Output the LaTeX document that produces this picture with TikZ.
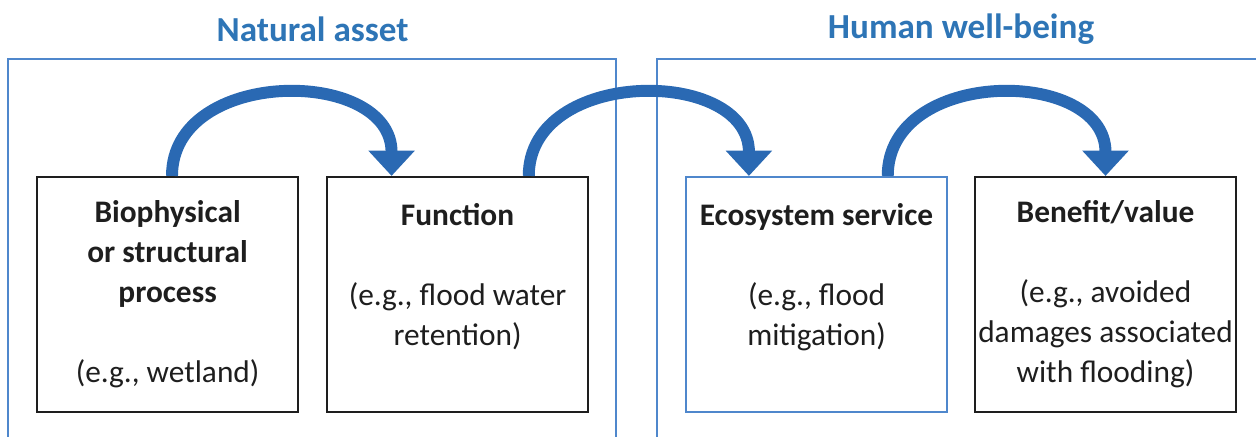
\documentclass[tikz,border=0pt]{standalone}
\usepackage{fontspec}
\setmainfont{Carlito}
\usetikzlibrary{
  arrows.meta,
  positioning,
  calc
}
\definecolor{assetblue}{HTML}{2E75B6}
\definecolor{frameblue}{HTML}{4F87CC}
\definecolor{flowblue}{HTML}{2A69B3}
\definecolor{boxgray}{HTML}{1E1E1E}

\begin{document}
\begin{tikzpicture}[
    node distance=0.675cm,
    every node/.style={align=center},
    stage/.style={
      rectangle, draw=boxgray, line width=1.4pt,
      minimum width=6.525cm, minimum height=5.875cm,
      inner sep=0pt, text=boxgray,
      font=\fontsize{22.3}{28.5}\selectfont
    },
    group/.style={draw=frameblue, line width=1.4pt},
    heading/.style={font=\fontsize{25}{30}\selectfont\bfseries, text=assetblue},
    flow/.style={-{Triangle[width=32pt,length=18pt]}, line width=8.5pt, draw=flowblue},
  ]
  \useasboundingbox (0,0) rectangle (31.4,10.9);

  % --- Stages ---
  \node[stage] (biophys) at (4.19, 3.54)
    {\textbf{Biophysical}\\\textbf{or structural}\\\textbf{process}\\[28.5pt]
     (e.g., wetland)};
  \node[stage, right=0.675cm of biophys] (function)
    {\textbf{Function}\\[28.5pt]
     (e.g., flood water\\retention)\\~};
  \node[stage, draw=frameblue, right=2.4cm of function] (service)
    {\textbf{Ecosystem service}\\[28.5pt]
     (e.g., flood\\mitigation)\\~};
  \node[stage, right=0.65cm of service] (benefit)
    {\textbf{Benefit/value}\\[28.5pt]
     (e.g., avoided\\damages associated\\with flooding)};

  % --- Groups ---
  \draw[group] ($(biophys.south west)+(-0.7,-1)$)
    |- ($(function.north east)+(0.675,2.925)$)
    -- ($(function.south east)+(0.675,-1)$);
  \draw[group] ($(service.south west)+(-0.7,-1)$)
    |- ($(benefit.north east)+(1,2.925)$);

  \node[heading] (natural) at ($(biophys.north)!0.5!(function.north)+(0,3.675)$)
    {Natural asset};
  \node[heading] (human) at ($(service.north)!0.5!(benefit.north)+(0,3.675)$)
    {Human well-being};

  % --- Arrows ---
  \draw[flow] ([xshift=0.11cm]biophys.north)
    .. controls +(0,2.73) and +(0,2.73) .. ([xshift=-1.65cm]function.north);
  \draw[flow] ([xshift=1.78cm]function.north)
    .. controls +(0,2.73) and +(0,2.73) .. ([xshift=-1.69cm]service.north);
  \draw[flow] ([xshift=1.78cm]service.north)
    .. controls +(0,2.73) and +(0,2.73) .. (benefit.north);
\end{tikzpicture}
\end{document}
